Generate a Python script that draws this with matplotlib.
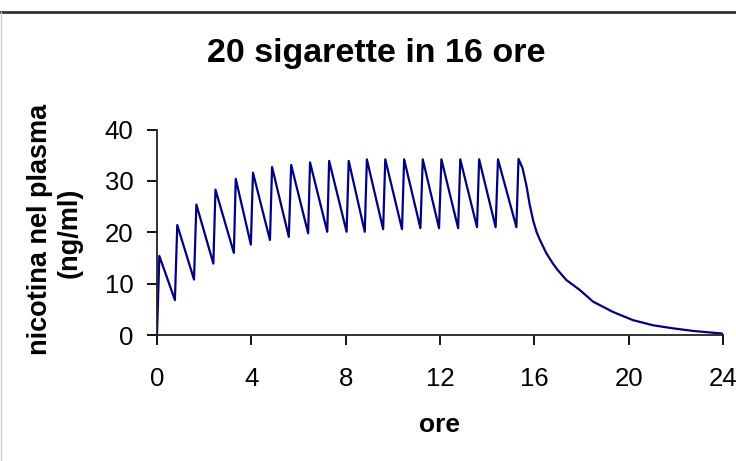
import matplotlib
matplotlib.use('Agg')
import matplotlib.pyplot as plt
from matplotlib.lines import Line2D

plt.rcParams['font.family'] = ['Liberation Sans', 'DejaVu Sans']

# nicotine plasma level (hours, ng/ml)
valle_t = [0.00, 0.76, 1.57, 2.39, 3.26, 3.98, 4.79, 5.59, 6.41, 7.22,
           8.04, 8.81, 9.59, 10.39, 11.17, 11.96, 12.77, 13.57, 14.36, 15.24]
valle_v = [0.0, 6.8, 10.8, 13.9, 16.0, 17.6, 18.5, 19.1, 19.8, 20.1,
           20.1, 20.1, 20.6, 20.6, 20.8, 20.8, 20.8, 21.0, 21.0, 21.0]
picco_t = [0.10, 0.86, 1.67, 2.48, 3.34, 4.07, 4.88, 5.69, 6.49, 7.30,
           8.13, 8.90, 9.68, 10.48, 11.27, 12.06, 12.86, 13.66, 14.46, 15.33]
picco_v = [15.4, 21.4, 25.4, 28.3, 30.4, 31.6, 32.7, 33.1, 33.6, 33.9,
           33.9, 34.2, 34.2, 34.2, 34.2, 34.2, 34.2, 34.2, 34.2, 34.3]
coda_t = [15.50, 15.67, 15.80, 15.95, 16.10, 16.23, 16.50, 16.79, 17.00, 17.36,
          17.92, 18.49, 19.33, 20.18, 21.03, 21.88, 22.72, 23.93, 24.00]
coda_v = [32.5, 29.0, 25.5, 22.3, 20.0, 18.6, 16.0, 13.9, 12.6, 10.7,
          8.8, 6.5, 4.5, 2.9, 1.9, 1.3, 0.8, 0.3, 0.2]
xticks = [0, 4, 8, 12, 16, 20, 24]
yticks = [0, 10, 20, 30, 40]

ore, nicotina = [], []
for tv, vv, tp, vp in zip(valle_t, valle_v, picco_t, picco_v):
    ore += [tv, tp]; nicotina += [vv, vp]
ore += coda_t; nicotina += coda_v

fig = plt.figure(figsize=(7.36, 4.61), dpi=100, facecolor='white')
ax = fig.add_axes([0.2133, 0.2733, 0.769, 0.4457])
ax.plot(ore, nicotina, color='#000080', lw=1.6, solid_joinstyle='round')

ax.set_xlim(0, 24); ax.set_ylim(0, 40)
ax.set_xticks(xticks); ax.set_yticks(yticks)
ax.tick_params(labelsize=18.5, length=7, width=1.3, colors='black')
ax.tick_params(axis='x', pad=16)
ax.tick_params(axis='y', pad=10)
for s in ['top', 'right']:
    ax.spines[s].set_visible(False)
for s in ['left', 'bottom']:
    ax.spines[s].set_linewidth(1.3)
    ax.spines[s].set_color('#222222')

fig.text(0.511, 0.866, '20 sigarette in 16 ore', ha='center', va='baseline',
         fontsize=24.5, fontweight='bold')
fig.text(0.5978, 0.062, 'ore', ha='center', va='baseline',
         fontsize=19, fontweight='bold')
fig.text(0.055, 0.503, 'nicotina nel plasma', rotation=90, ha='center', va='center',
         fontsize=19.5, fontweight='bold')
fig.text(0.095, 0.495, '(ng/ml)', rotation=90, ha='center', va='center',
         fontsize=19.5, fontweight='bold')

# frame remnants of the original image
fig.add_artist(Line2D([0, 1], [0.973, 0.973], transform=fig.transFigure, color='#333333', lw=2))
fig.add_artist(Line2D([0.002, 0.002], [0, 0.973], transform=fig.transFigure, color='#cccccc', lw=1))

plt.savefig('out.png', dpi=100, facecolor='white')
